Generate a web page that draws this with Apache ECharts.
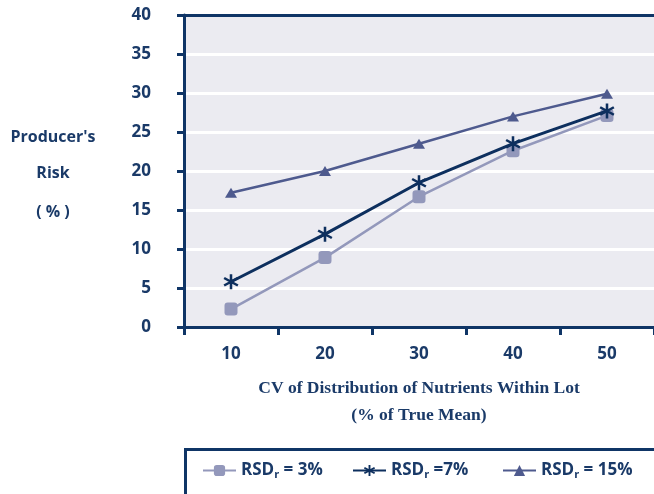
<!DOCTYPE html>
<html>
<head>
<meta charset="utf-8">
<script src="https://cdn.jsdelivr.net/npm/echarts@6/dist/echarts.min.js"></script>
<style>
  html, body { margin: 0; padding: 0; background: #ffffff; }
  #chart { width: 654px; height: 494px; }
</style>
</head>
<body>
<div id="chart"></div>
<script>
// CV categories (% of true mean)
var categories = ['10', '20', '30', '40', '50'];
// Producer's risk (%) for each within-lab RSD
var rsd3 = [2.3, 8.9, 16.7, 22.6, 27.1];
var rsd7 = [5.8, 11.9, 18.5, 23.5, 27.7];
var rsd15 = [17.2, 20.0, 23.5, 27.0, 29.9];
var seriesNames = ['RSD_r = 3%', 'RSD_r =7%', 'RSD_r = 15%'];
var yTicks = { min: 0, max: 40, interval: 5 };

var navy = '#0f3566';
var textNavy = '#1a3a68';
var sansFont = '"Open Sans", "Noto Sans", sans-serif';

// six-armed asterisk marker
var starPath = 'path://M-1.6,-10 L1.6,-10 L1.6,10 L-1.6,10 Z ' +
  'M9.46,-3.61 L-7.86,6.39 L-9.46,3.61 L7.86,-6.39 Z ' +
  'M-9.46,-3.61 L-7.86,-6.39 L9.46,3.61 L7.86,6.39 Z';

var chart = echarts.init(document.getElementById('chart'), null, { renderer: 'canvas' });

function legendLabel(name) {
  var parts = name.split('_r');
  return parts[0] + '{sub|r}' + parts[1];
}

var legendText = {
  color: textNavy,
  fontFamily: sansFont,
  fontWeight: 'bold',
  fontSize: 17,
  rich: {
    sub: { fontSize: 11, fontWeight: 'bold', color: textNavy, fontFamily: sansFont, padding: [8, 0, 0, 0] }
  }
};

function makeLegend(name, left) {
  return {
    data: [name],
    left: left,
    top: 462,
    itemWidth: 33,
    itemHeight: 14,
    itemGap: 0,
    padding: 0,
    selectedMode: false,
    formatter: legendLabel,
    textStyle: legendText
  };
}

var splitColors = [];
for (var v = yTicks.min; v <= yTicks.max; v += yTicks.interval) {
  splitColors.push(v === yTicks.max ? navy : '#ffffff');
}

var titleFont = 'bold 16px ' + sansFont;

chart.setOption({
  animation: false,
  backgroundColor: '#ffffff',
  grid: {
    left: 184, top: 15, right: -5, bottom: 167,
    show: true, backgroundColor: '#ebebf1', borderWidth: 0
  },
  legend: [
    makeLegend(seriesNames[0], 202),
    makeLegend(seriesNames[1], 352),
    makeLegend(seriesNames[2], 502)
  ],
  xAxis: {
    type: 'category',
    data: categories,
    boundaryGap: true,
    axisLine: { lineStyle: { color: navy, width: 3 } },
    axisTick: { show: true, inside: false, length: 8, lineStyle: { color: navy, width: 3 } },
    axisLabel: { color: textNavy, fontFamily: sansFont, fontWeight: 'bold', fontSize: 17, margin: 19 },
    name: 'CV of Distribution of Nutrients Within Lot\n(% of True Mean)',
    nameLocation: 'middle',
    nameGap: 48,
    nameTextStyle: {
      color: textNavy, fontFamily: '"Liberation Serif", "DejaVu Serif", serif',
      fontWeight: 'bold', fontSize: 17.5, lineHeight: 27
    }
  },
  yAxis: {
    type: 'value',
    min: yTicks.min, max: yTicks.max, interval: yTicks.interval,
    axisLine: { show: true, lineStyle: { color: navy, width: 3 } },
    axisTick: { show: true, inside: false, length: 7, lineStyle: { color: navy, width: 3 } },
    axisLabel: { color: textNavy, fontFamily: sansFont, fontWeight: 'bold', fontSize: 17, margin: 33 },
    splitLine: { show: true, lineStyle: { color: splitColors, width: 3 } }
  },
  graphic: [
    { type: 'text', x: 53, y: 137, style: { text: "Producer's", fill: textNavy, font: titleFont, align: 'center', verticalAlign: 'middle' } },
    { type: 'text', x: 53, y: 173, style: { text: 'Risk', fill: textNavy, font: titleFont, align: 'center', verticalAlign: 'middle' } },
    { type: 'text', x: 53, y: 212, style: { text: '( % )', fill: textNavy, font: titleFont, align: 'center', verticalAlign: 'middle' } },
    { type: 'rect', shape: { x: 185.5, y: 449.5, width: 520, height: 100 }, style: { fill: 'none', stroke: navy, lineWidth: 3 }, z: 10 }
  ],
  series: [
    {
      name: seriesNames[0], type: 'line', data: rsd3,
      symbol: 'roundRect', symbolSize: 13,
      lineStyle: { color: '#9398bb', width: 2.5 },
      itemStyle: { color: '#9398bb' },
      z: 2
    },
    {
      name: seriesNames[1], type: 'line', data: rsd7,
      symbol: starPath, symbolSize: [15, 15],
      lineStyle: { color: '#0d2f5e', width: 3 },
      itemStyle: { color: '#0d2f5e' },
      z: 3
    },
    {
      name: seriesNames[2], type: 'line', data: rsd15,
      symbol: 'triangle', symbolSize: [12, 10],
      lineStyle: { color: '#4e5a8e', width: 2.5 },
      itemStyle: { color: '#4e5a8e' },
      z: 2
    }
  ]
});
</script>
</body>
</html>
